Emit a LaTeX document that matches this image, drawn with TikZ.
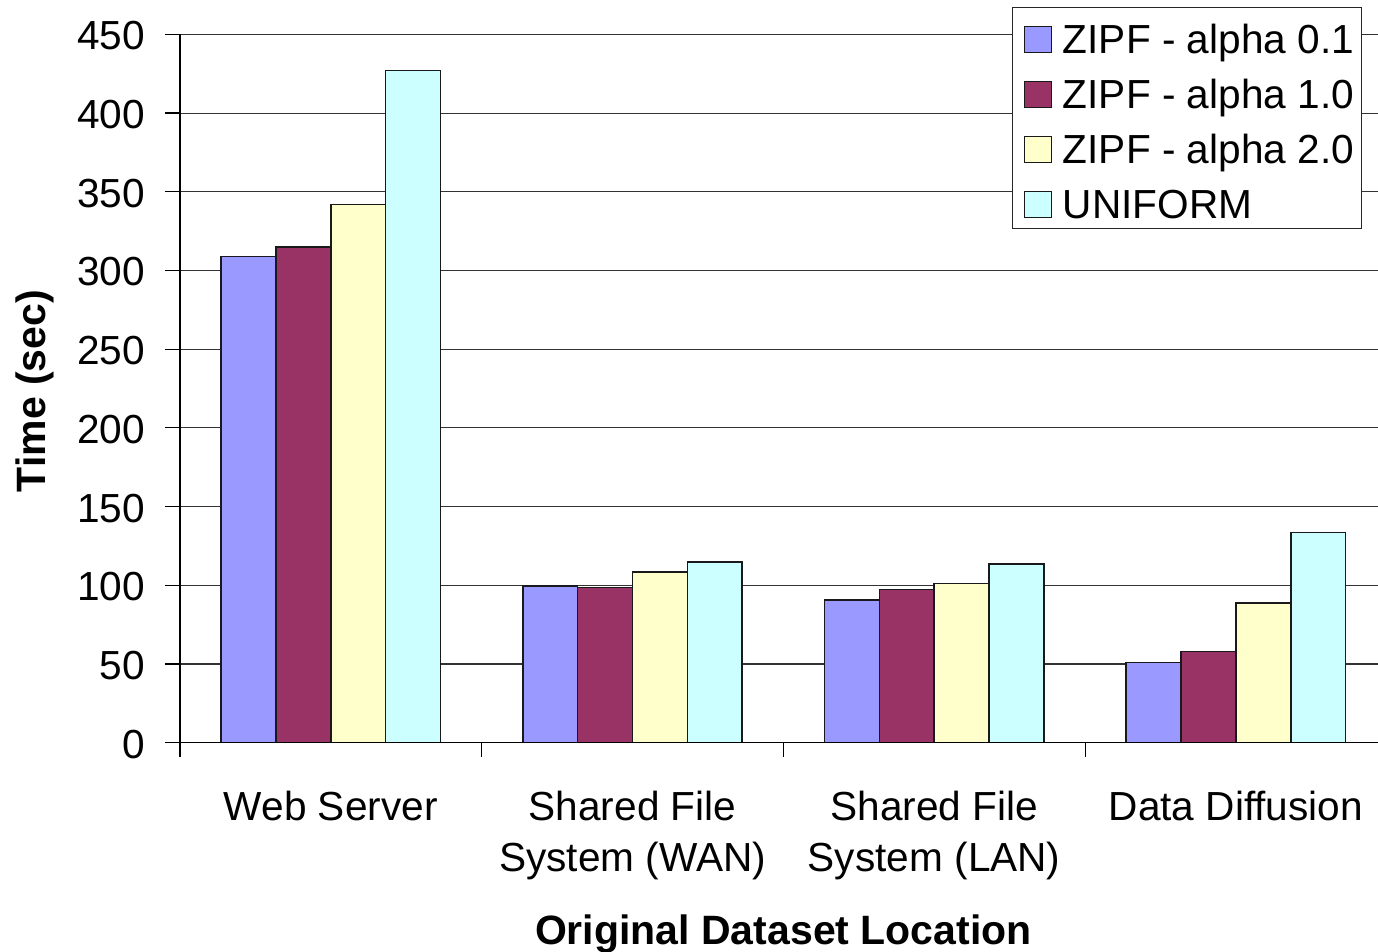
\documentclass[tikz,border=0pt]{standalone}
\usepackage{fontspec}
\setmainfont{Liberation Sans}
\definecolor{serA}{HTML}{9999FF}
\definecolor{serB}{HTML}{993366}
\definecolor{serC}{HTML}{FFFFCC}
\definecolor{serD}{HTML}{CCFFFF}
\begin{document}
\begin{tikzpicture}[x=0.5pt,y=-0.5pt,
  gridline/.style={line width=0.55pt, black!80},
  axisline/.style={line width=0.6pt, black},
  barbox/.style={draw=black!90, line width=0.75pt},
  lab/.style={font=\fontsize{20.3}{24}\selectfont, inner sep=0pt},
  title/.style={font=\fontsize{20.5}{24}\selectfont\bfseries, inner sep=0pt}]
\useasboundingbox (0,0) rectangle (1378,952);

% value axis: 0 at y=742.7, 1.574 px per second
\def\yzero{742.7}
\def\yunit{1.574}
\def\catw{301.7}
\def\barw{54.85}
\def\gapw{41.1}

% horizontal gridlines
\foreach \v in {50,100,...,450}{
  \pgfmathsetmacro\yy{\yzero-\yunit*\v}
  \draw[gridline] (180,\yy) -- (1378,\yy);
}

% bars
\foreach \i/\a/\b/\c/\d in {0/309/315/342/427, 1/99.5/98.7/108.3/114.8,
                            2/90.7/97.2/101/113.5, 3/51.1/57.8/88.6/133.7}{
  \foreach \j/\val/\col in {0/\a/serA, 1/\b/serB, 2/\c/serC, 3/\d/serD}{
    \pgfmathsetmacro\xl{180+\catw*\i+\gapw+\barw*\j}
    \pgfmathsetmacro\xr{\xl+\barw}
    \pgfmathsetmacro\yt{\yzero-\yunit*\val}
    \draw[barbox, fill=\col] (\xl,\yzero) rectangle (\xr,\yt);
  }
}

% axes and tick marks
\draw[axisline] (180,34.4) -- (180,\yzero);
\draw[axisline] (180,\yzero) -- (1378,\yzero);
\foreach \v in {0,50,...,450}{
  \pgfmathsetmacro\yy{\yzero-\yunit*\v}
  \draw[axisline] (165,\yy) -- (180,\yy);
  \node[lab, anchor=base east] (ylab\v) at (145.5,\yy+15.5) {\v};
}
\foreach \i in {0,1,2,3}{
  \pgfmathsetmacro\xx{180+\catw*\i}
  \draw[axisline] (\xx,\yzero) -- (\xx,757);
}

% category labels
\node[lab, anchor=base] (catA) at (330.8,820) {Web Server};
\node[lab, anchor=base] (catB1) at (632.5,820) {Shared File};
\node[lab, anchor=base] (catB2) at (632.5,871) {System (WAN)};
\node[lab, anchor=base] (catC1) at (934.2,820) {Shared File};
\node[lab, anchor=base] (catC2) at (934.2,871) {System (LAN)};
\node[lab, anchor=base] (catD) at (1235.9,820) {Data Diffusion};

% axis titles
\node[title, anchor=base] (xtitle) at (783.4,944.5) {Original Dataset Location};
\node[title, anchor=base, rotate=90] (ytitle) at (45.5,391) {Time (sec)};

% legend
\draw[line width=0.6pt, black!85, fill=white] (1012.3,7.3) rectangle (1361.7,228.3);
\foreach \k/\col/\txt in {0/serA/{ZIPF - alpha 0.1}, 1/serB/{ZIPF - alpha 1.0},
                          2/serC/{ZIPF - alpha 2.0}, 3/serD/{UNIFORM}}{
  \pgfmathsetmacro\cy{39.7+54.9*\k}
  \draw[barbox, fill=\col] (1024.3,\cy-13) rectangle (1051.7,\cy+13);
  \node[lab, anchor=base west] (leg\k) at (1062.5,\cy+14) {\txt};
}
\end{tikzpicture}
\end{document}
